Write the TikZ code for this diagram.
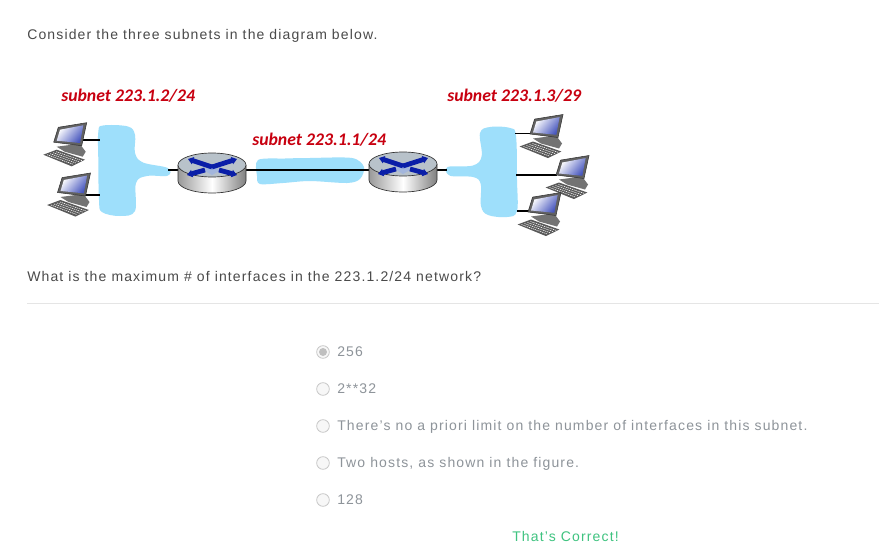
\documentclass[tikz,border=0pt]{standalone}
\usepackage{fontspec}
\setmainfont[LetterSpace=8.2]{Liberation Sans}
\newfontfamily\calloutfont{Carlito}
\usetikzlibrary{arrows.meta}

\definecolor{bodytext}{HTML}{4A4A4A}
\definecolor{choicetext}{HTML}{8E949A}
\definecolor{blobblue}{HTML}{9EDFFB}
\definecolor{subnetred}{HTML}{C80010}
\definecolor{routertop}{HTML}{B8C2CA}
\definecolor{routerblue}{HTML}{0A1EA8}
\definecolor{routerpale}{HTML}{A3B6DC}
\definecolor{correctgreen}{HTML}{3FC380}

\tikzset{
    body/.style={anchor=base west,inner sep=0pt,text=bodytext,font=\fontsize{10.5}{12}\selectfont},
    choice/.style={anchor=base west,inner sep=0pt,text=choicetext,font=\fontsize{10.5}{12}\selectfont},
    subnet/.style={anchor=base west,inner sep=0pt,text=subnetred,font=\calloutfont\fontsize{13.3}{15}\selectfont\bfseries\itshape},
    radio/.style={circle,draw=black!22,fill=black!3,line width=0.6pt,minimum size=9.5pt,inner sep=0pt},
    hub/.style={circle,inner sep=0pt,minimum size=1pt},
    blob/.style={fill=blobblue,draw=none},
    link/.style={line width=1.1pt,black},
    xarrow/.style={routerblue,line width=3.6pt,-{Triangle[length=4pt,width=5.5pt]}},
    computer/.pic={
        \fill [black!55] (-7,21)--(-1,29)--(-4,34)--(-22,29)--(-30,24)--cycle;
        \fill [black!65] (-43.4,32)--(-30,27)--(-1.7,37)--(-15,43.6)--cycle;
        \foreach \row in {0,1,2,3}
            \draw [white,line width=0.45pt,dash pattern=on 0.9pt off 0.6pt]
                (-39.5+\row*3,32-\row*1)--(-13.5+\row*3,41.6-\row*1.2);
        \fill [black!62] (0,0)--(-28.4,4.6)--(-33,19.5)--(-5,23)--cycle;
        \draw [black!80,line width=0.4pt] (0,0)--(-28.4,4.6)--(-33,19.5)--(-5,23)--cycle;
        \shade [left color=white,right color=routerblue!75,shading angle=50]
            (-3.4,2.6)--(-26.7,7)--(-30,18)--(-6.7,20.3)--cycle;
    },
    router/.pic={
        \shade [left color=black!40,right color=black!50,middle color=white]
            (-34,0)--(-34,16) .. controls (-34,22.6) and (-19,28) .. (0,28)
            .. controls (19,28) and (34,22.6) .. (34,16)--(34,0)--cycle;
        \draw [black!80,line width=0.5pt] (-34,0)--(-34,16) .. controls (-34,22.6) and (-19,28) .. (0,28)
            .. controls (19,28) and (34,22.6) .. (34,16)--(34,0);
        \filldraw [fill=routertop,draw=black!80,line width=0.5pt] (0,0) circle [x radius=34,y radius=12];
        \fill [routerpale] (0,1)--(-9,5)--(0,10)--(9,5)--cycle;
        \draw [xarrow] (0,2)--(-24,-6);
        \draw [xarrow] (0,2)--(25,-6);
        \draw [xarrow] (-7,5)--(-25,10);
        \draw [xarrow] (7,5)--(25,10);
    }
}

\begin{document}
\begin{tikzpicture}[x=0.75pt,y=-0.75pt]
    \useasboundingbox (0,0) rectangle (879,553);
    \fill [white] (0,0) rectangle (879,553);

    % texts of the question
    \node [body] (intro) at (27,39) {Consider the three subnets in the diagram below.};
    \node [body] (question) at (27,281) {What is the maximum \# of interfaces in the 223.1.2/24 network?};
    \coordinate (ruleleft) at (27,303.5);
    \coordinate (ruleright) at (879,303.5);
    \draw [black!10,line width=0.6pt] (ruleleft)--(ruleright);

    % subnets
    \fill [blob] plot [smooth cycle,tension=0.6] coordinates {(98.3,132) (103,125.5) (128,126.5) (135,135) (135,153) (143,162.5) (167.7,168) (167.7,175.7) (147,176) (136,183) (135,211) (120,216) (102,212) (99,200) (98.3,160)};
    \fill [blob] plot [smooth cycle,tension=0.5] coordinates {(258,160) (285,158.5) (310,158) (352,158) (364,167) (360,179) (347,183) (310,181) (283,183) (260,184) (257,176)};
    \fill [blob] plot [smooth cycle,tension=0.6] coordinates {(447.7,167) (473,165.5) (481.7,156) (480,133) (490,127) (510,128) (516,136) (517,180) (517,211) (507,217) (488,215) (481,206) (480.7,184) (473,177) (450,175.7)};

    \node [subnet] (subnetA) at (61,101) {subnet 223.1.2/24};
    \node [subnet] (subnetB) at (252,145) {subnet 223.1.1/24};
    \node [subnet] (subnetC) at (447,101) {subnet 223.1.3/29};

    % hosts and routers
    \coordinate (hostA) at (82,140);
    \coordinate (hostB) at (84,195);
    \coordinate (hostC) at (535,133.5);
    \coordinate (hostD) at (557,175);
    \coordinate (hostE) at (531,211);
    \coordinate (blobAtop) at (100,140);
    \coordinate (blobAlow) at (100,195);
    \coordinate (blobAport) at (168,170);
    \coordinate (blobCtop) at (515,133.5);
    \coordinate (blobCmid) at (516,175);
    \coordinate (blobClow) at (517,211);
    \coordinate (blobCport) at (447,170);
    \node [hub] (routerA) at (212,170) {};
    \node [hub] (routerB) at (403,170) {};

    \draw [link] (hostA)--(blobAtop);
    \draw [link] (hostB)--(blobAlow);
    \draw [link] (blobAport)--(routerA);
    \draw [link] (routerA)--(routerB);
    \draw [link] (routerB)--(blobCport);
    \draw [link] (blobCtop)--(hostC);
    \draw [link] (blobCmid)--(hostD);
    \draw [link] (blobClow)--(hostE);

    \pic at (212,165) {router};
    \pic at (403,164) {router};
    \pic at (86.7,122.7) {computer};
    \pic at (90.5,173) {computer};
    \pic at (563,114.5) {computer};
    \pic at (589,155.5) {computer};
    \pic at (561,192.5) {computer};

    % answers
    \node [radio] (radioA) at (323,352) {};
    \node [radio] (radioB) at (323,389) {};
    \node [radio] (radioC) at (323,426) {};
    \node [radio] (radioD) at (323,463) {};
    \node [radio] (radioE) at (323,500) {};
    \fill [black!25] (radioA) circle (4);
    \node [choice] (choiceA) at (337,356) {256};
    \node [choice] (choiceB) at (337,393) {2**32};
    \node [choice] (choiceC) at (337,430) {There's no a priori limit on the number of interfaces in this subnet.};
    \node [choice] (choiceD) at (337,467) {Two hosts, as shown in the figure.};
    \node [choice] (choiceE) at (337,504) {128};
    \node [choice,text=correctgreen] (verdict) at (512,541) {That's Correct!};
\end{tikzpicture}
\end{document}
